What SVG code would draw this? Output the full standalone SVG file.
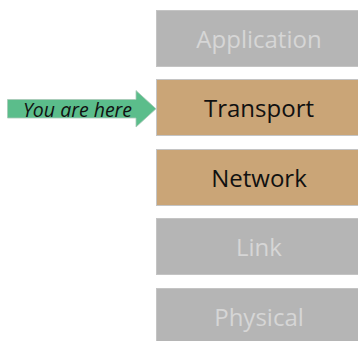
<svg xmlns="http://www.w3.org/2000/svg" width="358" height="341" viewBox="0 0 358 341">
  <style>
    .box rect { stroke: #c4c4c4; stroke-width: 1; }
    .off rect { fill: #b5b5b5; }
    .on rect { fill: #caa577; }
    .box text { font-family: "Open Sans", "Noto Sans", sans-serif; font-size: 24px; text-anchor: middle; }
    .off text { fill: #d6d6d6; }
    .on text { fill: #111111; }
    .pointer { fill: #5bbd8b; stroke: #a9c9b8; stroke-width: 0.8; }
    .pointer-label { font-family: "Open Sans", "Noto Sans", sans-serif; font-style: italic; font-size: 19.5px; fill: #111111; }
  </style>

  <!-- protocol layers, top to bottom -->
  <g id="layer-application" class="box off">
    <rect x="156.5" y="10.5" width="206" height="56"/>
    <text x="259" y="48">Application</text>
  </g>
  <g id="layer-transport" class="box on">
    <rect x="156.5" y="79.5" width="206" height="56"/>
    <text x="259" y="117">Transport</text>
  </g>
  <g id="layer-network" class="box on">
    <rect x="156.5" y="149.5" width="206" height="56"/>
    <text x="259" y="187">Network</text>
  </g>
  <g id="layer-link" class="box off">
    <rect x="156.5" y="218.5" width="206" height="56"/>
    <text x="259" y="256">Link</text>
  </g>
  <g id="layer-physical" class="box off">
    <rect x="156.5" y="288.5" width="206" height="56"/>
    <text x="259" y="326">Physical</text>
  </g>

  <!-- marker arrow pointing at the current layer -->
  <g id="connectors">
    <g id="you-are-here">
      <polygon class="pointer" points="7.5,99.5 136,99.5 136,90.5 156,108.8 136,127 136,118 7.5,118"/>
      <text class="pointer-label" x="23" y="116.5">You are here</text>
    </g>
  </g>
</svg>
